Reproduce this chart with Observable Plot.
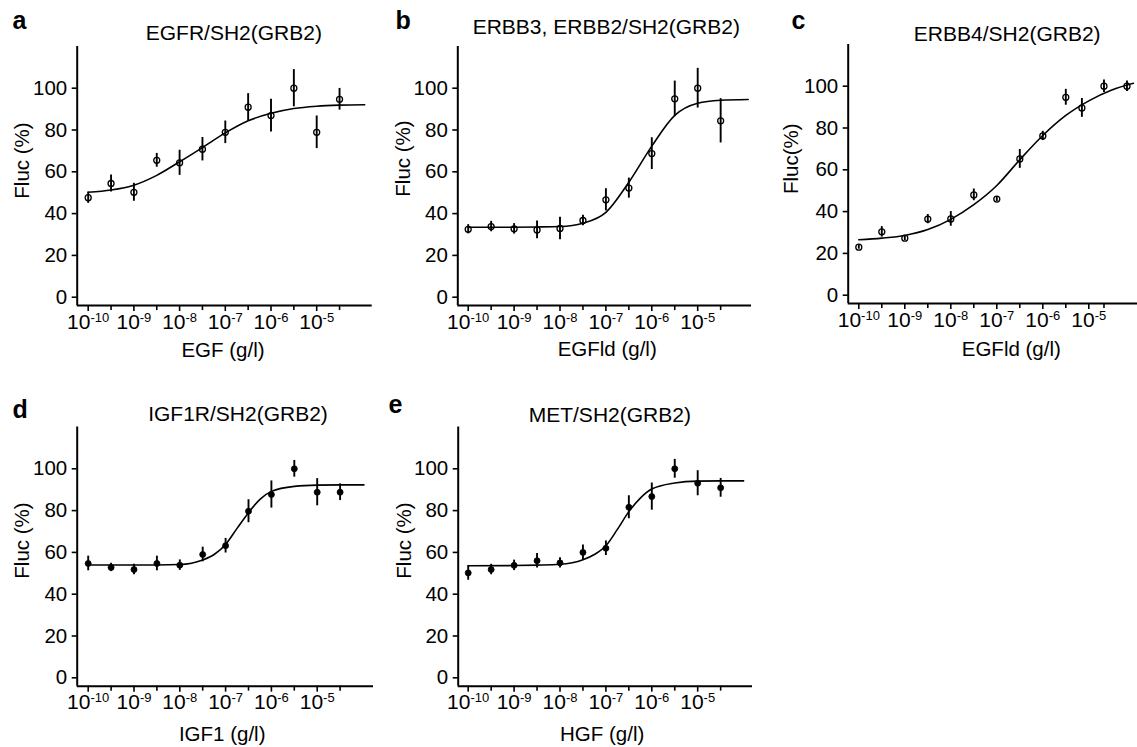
<!DOCTYPE html>
<html><head><meta charset="utf-8">
<script src="https://cdn.jsdelivr.net/npm/d3@7"></script>
<script src="https://cdn.jsdelivr.net/npm/@observablehq/plot@0.6"></script>
<style>
html,body{margin:0;padding:0;background:#fff;}
#fig{position:relative;width:1137px;height:747px;overflow:hidden;background:#fff;font-family:"Liberation Sans",Arial,sans-serif;}
#fig svg{position:absolute;overflow:visible;}
</style></head><body><div id="fig"></div>
<script>
// ---------- data (x = log10 concentration, g/l ; y = Fluc %) ----------
const logConc = [-10,-9.5,-9,-8.5,-8,-7.5,-7,-6.5,-6,-5.5,-5,-4.5];
const logConcC = [-10,-9.5,-9,-8.5,-8,-7.5,-7,-6.5,-6,-5.5,-5.15,-4.67,-4.17];

const flucA = [47.6,54.4,50.2,65.5,64.3,70.8,78.9,90.9,86.9,100,78.9,94.7];
const errA  = [2.7,4.1,4.3,3.3,6.0,5.6,5.4,6.5,7.8,8.9,7.8,5.2];
const flucB = [32.5,33.8,32.7,32.2,32.9,36.7,46.6,52.2,68.7,94.9,100,84.4];
const errB  = [2.2,2.5,2.5,4.2,5.4,2.5,5.3,4.8,7.6,8.5,9.5,10.6];
const flucC = [23,30.3,27.3,36.4,36.5,48,46,65.2,76.2,94.7,89.6,100,100];
const errC  = [1.0,2.5,1.2,2.2,3.5,2.8,1.2,4.5,2.2,3.8,4.5,3.0,2.5];
const flucD = [54.7,52.8,51.8,54.7,53.9,59,63.2,79.7,87.7,100,88.8,88.8];
const errD  = [3.5,2.0,2.5,3.5,2.5,3.5,3.5,5.5,6.5,4.0,6.5,4.0];
const flucE = [50.2,51.8,53.8,56,55,60,62,81.6,86.7,100,93.1,90.9];
const errE  = [3.5,2.5,2.5,3.5,2.5,3.5,3.5,5.5,6.5,4.5,6.0,4.5];

// fitted curves
const fitXA = [-10,-9.5,-9,-8.5,-8,-7.5,-7,-6.5,-6,-5.5,-5,-4.5,-3.95];
const fitA  = [50.2,51.3,53.6,58.3,64.8,71.6,78.6,84.4,88.0,90.3,91.4,91.9,92.1];
const fitXB = [-10,-9.5,-9,-8.5,-8,-7.5,-7,-6.5,-6,-5.5,-5,-4.5,-3.9];
const fitB  = [33.5,33.5,33.5,33.6,33.8,35.4,40.6,55.0,72.3,87.0,92.8,94.2,94.6];
const fitXC = [-10,-9.5,-9,-8.5,-8,-7.5,-7,-6.5,-6,-5.5,-5,-4.5,-4.03];
const fitC  = [26.5,27.3,28.6,31.4,36.3,43.3,52.5,64.8,76.4,86.0,93.0,98.2,101.4];
const fitXD = [-10,-9,-8.5,-8,-7.5,-7.25,-7,-6.75,-6.5,-6.25,-6,-5.5,-5,-4.5,-3.98];
const fitD  = [54,54,54,54.2,56.4,59,63.8,71.5,79,85.4,89.2,91.6,92.2,92.3,92.3];
const fitXE = [-10,-9,-8.5,-8,-7.5,-7.25,-7,-6.75,-6.5,-6.25,-6,-5.5,-5,-4.5,-4];
const fitE  = [53.6,53.7,53.9,54.3,56.5,59,63.2,71,79.5,86,90.3,93.2,94.1,94.2,94.2];

const yTicks = [0,20,40,60,80,100];
const xMajor = [-10,-9,-8,-7,-6,-5];
const xMinor = [-9.5,-8.5,-7.5,-6.5,-5.5,-4.5];
const xMinorC = [-9.5,-8.5,-7.5,-6.5,-5.5,-4.67];

const letters = ["a","b","c","d","e"];
const titles = ["EGFR/SH2(GRB2)","ERBB3, ERBB2/SH2(GRB2)","ERBB4/SH2(GRB2)","IGF1R/SH2(GRB2)","MET/SH2(GRB2)"];
const xLabels = ["EGF (g/l)","EGFld (g/l)","EGFld (g/l)","IGF1 (g/l)","HGF (g/l)"];
const yLabels = ["Fluc (%)","Fluc (%)","Fluc(%)","Fluc (%)","Fluc (%)"];

// ---------- layout ----------
const layout = [
  {left:0,   top:0,   w:380, h:372, axisLeft:76.7,  tenPx:87.7,  dec:45.7, rightPx:371.7, zeroPx:296.7,
   letter:[12,28], title:[233.3,39.5], xl:[222.5,356.7], yl:[29,160], filled:false},
  {left:380, top:0,   w:372, h:372, axisLeft:457.3, tenPx:467.7, dec:45.9, rightPx:751,   zeroPx:296.7,
   letter:[395,28], title:[605.8,33.5], xl:[606.7,355], yl:[409,158], filled:false},
  {left:760, top:0,   w:377, h:372, axisLeft:847.7, tenPx:858.3, dec:46.0, rightPx:1137,  zeroPx:294.7,
   letter:[791,28], title:[1006.7,40], xl:[1010.8,355], yl:[797,158.3], filled:false},
  {left:0,   top:372, w:380, h:375, axisLeft:76.7,  tenPx:87.7,  dec:45.8, rightPx:373,   zeroPx:677.3,
   letter:[12,417], title:[237.5,420.5], xl:[221.7,740], yl:[29,540], filled:true},
  {left:380, top:372, w:372, h:375, axisLeft:457.7, tenPx:467.7, dec:45.9, rightPx:752,   zeroPx:677.3,
   letter:[388,412], title:[609.3,421.5], xl:[601.7,740.5], yl:[410,540], filled:true}
];

const series = [
  {x:logConc,  y:flucA, e:errA, fx:fitXA, fy:fitA, minor:xMinor},
  {x:logConc,  y:flucB, e:errB, fx:fitXB, fy:fitB, minor:xMinor},
  {x:logConcC, y:flucC, e:errC, fx:fitXC, fy:fitC, minor:xMinorC},
  {x:logConc,  y:flucD, e:errD, fx:fitXD, fy:fitD, minor:xMinor},
  {x:logConc,  y:flucE, e:errE, fx:fitXE, fy:fitE, minor:xMinor}
];

const FONT = "Liberation Sans, Arial, Helvetica, sans-serif";
const PX = 2.09, yMin = -4, yMax = 120;
const fig = document.getElementById("fig");

layout.forEach((cfg, i) => {
  const s = series[i];
  const pts = s.x.map((x, j) => ({x, y: s.y[j], lo: s.y[j] - s.e[j], hi: s.y[j] + s.e[j]}));
  const fit = s.fx.map((x, j) => ({x, y: s.fy[j]}));
  const frameTop = cfg.zeroPx - yMax * PX;
  const frameBottom = cfg.zeroPx - yMin * PX;
  const xMin = -10 - (cfg.tenPx - cfg.axisLeft) / cfg.dec;
  const xMax = -10 + (cfg.rightPx - cfg.tenPx) / cfg.dec;
  const mL = cfg.axisLeft - cfg.left, mR = cfg.left + cfg.w - cfg.rightPx;
  const mT = frameTop - cfg.top, mB = cfg.top + cfg.h - frameBottom;
  const ox = cfg.axisLeft, oy = frameTop;
  const txt = (str, pos, o) => Plot.text([str], Object.assign({
    frameAnchor: "top-left", text: d => d, dx: pos[0] - ox, dy: pos[1] - oy,
    lineAnchor: "bottom", fill: "black", fontFamily: FONT
  }, o));

  const svg = Plot.plot({
    width: cfg.w, height: cfg.h,
    marginLeft: mL, marginRight: mR, marginTop: mT, marginBottom: mB,
    style: {fontFamily: FONT, background: "transparent", overflow: "visible", color: "black"},
    x: {type: "linear", domain: [xMin, xMax], label: null},
    y: {domain: [yMin, yMax], label: null},
    marks: [
      Plot.axisY({ticks: yTicks, tickSize: 5, tickPadding: 5, fontSize: 20.5, strokeWidth: 1.6, label: null, tickFormat: d => String(d)}),
      Plot.axisX({ticks: xMajor, tickSize: 6, tickPadding: 2.4, fontSize: 21, strokeWidth: 1.6, label: null, tickFormat: d => "10^" + d}),
      Plot.axisX({ticks: s.minor, tickSize: 5, tickPadding: 2, strokeWidth: 1.6, label: null, tickFormat: () => ""}),
      Plot.ruleX([xMin], {y1: yMin, y2: yMax, strokeWidth: 2, stroke: "black"}),
      Plot.ruleY([yMin], {strokeWidth: 2, stroke: "black"}),
      Plot.line(fit, {x: "x", y: "y", curve: "monotone-x", stroke: "black", strokeWidth: 1.6}),
      Plot.ruleX(pts, {x: "x", y1: "lo", y2: "hi", stroke: "black", strokeWidth: 1.9}),
      cfg.filled
        ? Plot.dot(pts, {x: "x", y: "y", r: 3, fill: "black", stroke: "black", strokeWidth: 0.8})
        : Plot.dot(pts, {x: "x", y: "y", r: 3, fill: "none", stroke: "black", strokeWidth: 1.3}),
      txt(letters[i], cfg.letter, {fontSize: 25, fontWeight: "bold", textAnchor: "start"}),
      txt(titles[i], cfg.title, {fontSize: 21, textAnchor: "middle"}),
      txt(xLabels[i], cfg.xl, {fontSize: 20.5, textAnchor: "middle"}),
      txt(yLabels[i], cfg.yl, {fontSize: 20.5, textAnchor: "middle", rotate: -90})
    ]
  });
  svg.style.left = cfg.left + "px";
  svg.style.top = cfg.top + "px";
  // superscript exponents on the x tick labels
  d3.select(svg).selectAll("text").each(function () {
    const t = this.textContent;
    if (t.startsWith("10^")) {
      const exp = t.slice(3);
      const sel = d3.select(this);
      sel.text(null);
      sel.append("tspan").text("10");
      sel.append("tspan").attr("dy", -7).attr("font-size", 13).text(exp);
    }
  });
  fig.appendChild(svg);
});
</script>
</body></html>
